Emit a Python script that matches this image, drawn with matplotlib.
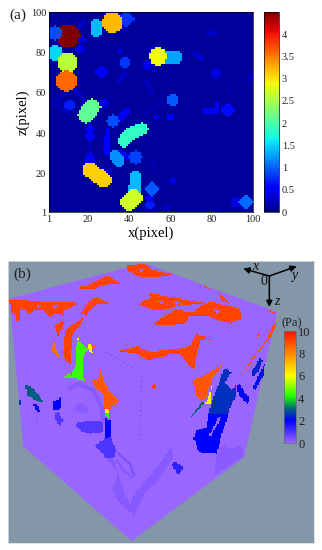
import numpy as np
import matplotlib
matplotlib.use("Agg")
import matplotlib.pyplot as plt
from matplotlib.colors import LinearSegmentedColormap
from matplotlib.patches import Polygon
from matplotlib.path import Path

plt.rcParams["font.family"] = ["Liberation Serif", "DejaVu Serif"]

W, H = 322, 550

# panel (a): round spots as x, z, radius, value
spots = [
    (10.4, 88, 5.7, 4.5), (31.7, 94.7, 5.2, 3.2), (4, 89.5, 3.5, 0.9),
    (4, 79.5, 4, 1.5), (10, 75, 4.5, 2.6), (9.5, 66, 5.2, 3.6),
    (54, 78, 4.3, 2.9), (38, 75, 2.3, 0.8), (61, 56.5, 3, 0.95),
    (11, 54, 2.5, 0.7), (32, 46, 3, 0.9), (50, 4.5, 2.3, 0.7),
    (53, 48, 1.3, 0.45), (60, 48, 1.5, 0.5), (35.5, 80.5, 1.5, 0.45),
    (61, 16.5, 1.5, 0.45), (92.5, 6, 3, 0.4), (48.5, 74, 2.2, 0.45),
    (16, 81.5, 2.2, 0.4), (17, 86, 2, 0.35), (50, 8, 2, 0.45),
    (52, 25, 1, 0.25),
]
# spots with little spikes
stars = [
    (38.5, 96.5, 3, 0.8), (26.5, 70.5, 2.8, 0.55), (43, 28, 3, 0.85),
    (51, 12.5, 3, 0.95), (96.5, 6, 3, 1.05), (88, 51.5, 2.7, 0.6),
    (82, 70, 2.3, 0.4), (80, 89.5, 1.8, 0.3), (21, 42, 2, 0.5),
    (21, 38.5, 2.2, 0.5), (28, 55, 1.8, 0.45),
]
# elongated spots as x0, z0, x1, z1, radius, value
sticks = [
    (24, 94, 24, 90, 2.8, 1.4), (56, 77.5, 63, 77.5, 2.7, 1.3),
    (19, 49, 22, 53, 4, 2.1), (37.4, 36, 41, 40, 3.1, 1.85),
    (41, 40, 46, 42, 3.1, 1.85), (33, 28.5, 35, 26.5, 2.9, 1.2),
    (21, 22, 27.5, 17, 3.7, 3.1), (43, 18.5, 42.5, 12, 2.7, 1.4),
    (40, 6, 42, 8, 4.2, 2.7), (76.5, 51, 82, 51, 1.3, 0.55),
    (82.5, 51, 82.5, 54, 1.4, 0.55), (72, 79, 75, 77, 1.2, 0.35),
    (29.5, 41, 29, 30, 1.4, 0.5), (21, 47, 21, 25, 0.8, 0.3),
    (21, 28, 21, 24, 2, 0.5), (10, 66, 19, 55, 1, 0.3),
    (3, 55, 11, 50, 0.8, 0.25), (3, 55, 9, 59, 0.8, 0.25),
    (35, 47, 39, 51, 1.5, 0.45), (35, 66, 38, 70, 1, 0.3),
    (48, 66, 51, 60, 1, 0.25), (46, 49, 58, 56, 0.8, 0.2),
    (58, 4, 58, 1, 1, 0.25), (88, 63, 89, 60, 0.8, 0.2),
    (98, 66, 100, 68, 0.8, 0.2), (80, 1, 84, 3, 0.8, 0.2),
    (35, 30, 42, 27, 1.5, 0.5), (15, 92, 18, 95, 1, 0.3),
]
bg_value = 0.12
a_ticks = [1, 20, 40, 60, 80, 100]
cb_ticks = [0, 0.5, 1, 1.5, 2, 2.5, 3, 3.5, 4]
cb_labels = ["0", "0.5", "1", "1.5", "2", "2.5", "3", "3.5", "4"]

# panel (b): cube outline and patches, in pixel coords of the panel, with value in Pa
cube = [(430, 98), (832, 245), (733, 680), (395, 932), (70, 648), (28, 205)]
patches_b = [
    # top face
    ([(380, 105), (435, 100), (460, 120), (525, 132), (485, 138), (450, 138), (430, 142), (405, 135), (400, 128), (380, 120)], 9.2),
    ([(229, 172), (264, 165), (324, 135), (359, 158), (319, 162), (284, 175), (239, 175)], 9.2),
    ([(29, 210), (74, 208), (124, 215), (174, 215), (229, 218), (224, 225), (194, 240), (189, 255), (164, 250),
      (149, 260), (129, 240), (104, 240), (84, 253), (79, 240), (59, 235), (59, 265), (52, 275), (44, 255), (32, 240)], 9.2),
    ([(242, 250), (264, 215), (289, 202), (327, 218), (299, 218), (274, 235), (259, 255)], 9.2),
    ([(162, 285), (194, 270), (189, 290), (174, 315)], 9.2),
    ([(196, 300), (249, 262), (244, 280), (219, 305), (214, 360), (212, 400), (199, 395), (189, 370)], 9.2),
    ([(445, 188), (610, 218), (540, 225), (490, 240), (465, 240), (420, 225), (430, 210), (455, 205)], 9.2),
    ([(460, 280), (490, 260), (525, 240), (580, 245), (605, 225), (635, 215), (720, 235), (725, 265),
      (690, 278), (655, 270), (620, 255), (570, 255), (555, 280), (485, 285)], 9.2),
    ([(655, 185), (690, 220), (665, 210)], 9.2),
    ([(615, 168), (640, 180), (625, 176)], 9.2),
    ([(805, 240), (828, 248), (815, 250)], 9.2),
    ([(360, 362), (410, 348), (450, 365), (535, 355), (570, 348), (588, 312), (635, 322), (600, 330), (595, 350),
      (582, 415), (565, 405), (545, 375), (520, 370), (445, 390), (410, 370)], 9.2),
    # left face, upper part
    ([(164, 330), (169, 355), (177, 385), (154, 360)], 8.4),
    ([(232, 330), (264, 355), (249, 380), (246, 440), (257, 453), (219, 442), (194, 442), (202, 430), (214, 435),
      (229, 400), (229, 360)], 4.4),
    ([(232, 322), (239, 322), (236, 330)], 6.2),
    ([(262, 340), (272, 340), (279, 370), (269, 365)], 6.2),
    ([(274, 342), (289, 345), (276, 360)], 8.8),
    ([(302, 420), (308, 445), (325, 480), (362, 515), (335, 525), (327, 542), (313, 535), (310, 490), (288, 475),
      (275, 450), (298, 445)], 8.8),
    ([(313, 535), (328, 540), (323, 560)], 6.2),
    ([(316, 553), (330, 553), (325, 568)], 4.2),
    # left face, lower part
    ([(225, 580), (270, 570), (305, 570), (310, 605), (270, 610), (240, 600)], 0.9),
    ([(215, 540), (240, 515), (270, 540), (255, 550)], 0.2),
    ([(315, 565), (332, 570), (332, 625), (315, 625)], 2.0),
    ([(315, 625), (332, 620), (348, 660), (340, 685), (320, 685), (285, 645)], 1.0),
    ([(320, 685), (340, 685), (360, 750), (375, 795), (410, 850), (380, 840), (345, 800), (340, 770), (355, 730)], 0.25),
    ([(410, 780), (455, 730), (480, 700), (515, 648), (520, 685), (500, 710), (465, 760), (435, 785), (415, 830),
      (400, 860), (390, 820)], 0.25),
    ([(515, 700), (525, 695), (545, 705), (548, 715), (535, 735), (525, 720)], 1.4),
    ([(75, 462), (100, 475), (128, 510), (125, 518), (100, 505), (82, 495)], 3.0),
    ([(100, 520), (112, 520), (120, 545), (105, 540)], 2.1),
    ([(105, 555), (115, 560), (110, 580)], 0.2),
    ([(58, 508), (65, 508), (63, 523), (58, 523)], 2.6),
    ([(160, 515), (185, 500), (185, 525), (175, 542), (162, 538)], 2.0),
    ([(165, 550), (175, 545), (190, 570), (178, 588), (165, 565)], 0.9),
    ([(460, 460), (470, 465), (462, 475), (455, 468)], 9.2),
    # right face
    ([(580, 450), (605, 440), (670, 402), (640, 440), (625, 480), (615, 510), (595, 505), (585, 490)], 8.9),
    ([(680, 420), (695, 425), (675, 455), (695, 480), (710, 460), (708, 495), (690, 530), (685, 550), (625, 550),
      (640, 500), (655, 465), (670, 420), (685, 412)], 2.5),
    ([(625, 550), (685, 550), (680, 570), (665, 610), (650, 670), (595, 665), (588, 635), (580, 625), (590, 600), (620, 590)], 2.0),
    ([(658, 558), (664, 562), (632, 618), (627, 615)], 0.0),
    ([(630, 485), (635, 465), (630, 520), (618, 518)], 6.2),
    ([(565, 570), (605, 515), (615, 515), (585, 550)], 3.0),
    ([(728, 435), (755, 385), (795, 335), (825, 275), (830, 280), (815, 315), (770, 370), (735, 425)], 9.0),
    ([(772, 315), (782, 305), (775, 325)], 9.0),
    ([(710, 465), (720, 460), (735, 490), (750, 500), (745, 520), (730, 510), (715, 490)], 2.1),
    ([(780, 380), (788, 390), (780, 415), (760, 440), (755, 425), (770, 400)], 2.4),
    ([(795, 400), (790, 435), (765, 480), (758, 475), (775, 435)], 2.2),
    ([(650, 675), (675, 635), (680, 655), (725, 645), (730, 680), (665, 720), (640, 735)], 0.2),
]
# small purple gaps in the red patches
gaps_b = [
    ([(470, 212), (490, 212), (485, 222)], 0.0),
    ([(520, 212), (545, 216), (530, 222)], 0.0),
    ([(640, 235), (660, 240), (650, 250)], 0.0),
    ([(110, 222), (125, 225), (115, 232)], 0.0),
    ([(160, 225), (175, 225), (165, 238)], 0.0),
    ([(415, 115), (430, 115), (425, 125)], 0.0),
]
arc_x = [208, 235, 280, 305, 310]
arc_z = [475, 460, 480, 530, 570]
loop1_x = [355, 390, 402]
loop1_z = [670, 700, 735]
loop2_x = [350, 370, 395]
loop2_z = [690, 720, 740]
hidden_x = [320, 425, 420]
hidden_z = [365, 430, 635]
pa_ticks = [0, 2, 4, 6, 8, 10]

# axis triad: label, tip of the arrow, label place
origin = (808, 137)
triad = [("x", (730, 115), (765, 108)), ("y", (890, 108), (882, 135)), ("z", (808, 230), (832, 213))]


def px_box(x0, y0, x1, y1):
    # pixel box to figure fractions
    return [x0 / W, 1 - y1 / H, (x1 - x0) / W, (y1 - y0) / H]


fig = plt.figure(figsize=(W / 100, H / 100), dpi=100)

# === panel (a) ===
xs = np.arange(1, 101)
X, Z = np.meshgrid(xs, xs)
grid = np.full(X.shape, bg_value, dtype=float)

for x, z, r, v in spots:
    grid[(X - x) ** 2 + (Z - z) ** 2 <= r ** 2] = v
for x, z, r, v in stars:
    mask = (X - x) ** 2 + (Z - z) ** 2 <= r ** 2
    mask |= (np.abs(X - x) <= 0.6) & (np.abs(Z - z) <= r + 0.6)
    mask |= (np.abs(Z - z) <= 0.6) & (np.abs(X - x) <= r + 0.6)
    grid[mask] = np.maximum(grid[mask], v)
for x0, z0, x1, z1, r, v in sticks:
    dx, dz = x1 - x0, z1 - z0
    t = np.clip(((X - x0) * dx + (Z - z0) * dz) / (dx ** 2 + dz ** 2), 0, 1)
    mask = (X - x0 - t * dx) ** 2 + (Z - z0 - t * dz) ** 2 <= r ** 2
    grid[mask] = np.maximum(grid[mask], v)

ax = fig.add_axes(px_box(49, 12, 253, 212))
im = ax.imshow(grid, origin="lower", extent=(0.5, 100.5, 0.5, 100.5), cmap="jet",
               vmin=0, vmax=4.5, aspect="auto", interpolation="nearest")
ax.set_xlim(1, 100)
ax.set_ylim(1, 100)
ax.set_xticks(a_ticks)
ax.set_yticks(a_ticks)
ax.tick_params(labelsize=7.5, length=0, pad=2, colors="#222222")
ax.set_xlabel("x(pixel)", fontsize=10.5, labelpad=2)
ax.set_ylabel("z(pixel)", fontsize=10.5, labelpad=1)
for s in ax.spines.values():
    s.set_linewidth(0.5)

cax = fig.add_axes(px_box(264, 12, 279, 212))
cb = fig.colorbar(im, cax=cax)
cb.set_ticks(cb_ticks)
cb.set_ticklabels(cb_labels)
cb.ax.tick_params(labelsize=7.5, length=0, pad=2, colors="#222222")
cb.outline.set_linewidth(0.5)

fig.text(18 / W, 1 - 15 / H, "(a)", fontsize=11, ha="center", va="center", color="#222222")

# === panel (b) ===
pa_cmap = LinearSegmentedColormap.from_list(
    "pa", [(0, "#9966ff"), (0.2, "#0000ff"), (0.3, "#006080"), (0.42, "#22ff00"),
           (0.6, "#ffff00"), (0.8, "#ff8800"), (1, "#ff1500")])

bx = fig.add_axes(px_box(8, 261, 314, 543))
bx.set_facecolor("#8497a9")
bx.set_xticks([])
bx.set_yticks([])
for s in bx.spines.values():
    s.set_color("#d5dbe0")
    s.set_linewidth(0.6)

bx.add_patch(Polygon(cube, closed=True, fc=pa_cmap(0.0), ec="none"))
bx.plot(arc_x, arc_z, color=pa_cmap(0.025), lw=3, solid_capstyle="round")
bx.plot(loop1_x, loop1_z, color=pa_cmap(0.04), lw=1.5)
bx.plot(loop2_x, loop2_z, color=pa_cmap(0.03), lw=1.5)

# patches go on a coarse grid so the edges stay stepped like the voxels
cell = 4
gx = np.arange(24, 942, cell) + cell / 2
gz = np.arange(92, 938, cell) + cell / 2
GX, GZ = np.meshgrid(gx, gz)
pts_all = np.column_stack([GX.ravel(), GZ.ravel()])
field = np.full(GX.shape, np.nan)
for pts, val in patches_b + gaps_b:
    inside = Path(pts + pts[:1]).contains_points(pts_all).reshape(GX.shape)
    field[inside] = val
bx.imshow(field, cmap=pa_cmap, vmin=0, vmax=10, extent=(gx[0] - cell / 2, gx[-1] + cell / 2, gz[-1] + cell / 2, gz[0] - cell / 2),
          interpolation="nearest", aspect="auto", zorder=2.5)
bx.set_xlim(24, 942)
bx.set_ylim(938, 92)
bx.plot(hidden_x, hidden_z, color="#6a4a90", lw=0.7, ls=(0, (1, 4)), zorder=3)

bx.text(66, 132, "(b)", fontsize=11, ha="center", va="center", color="#222222")
bx.text(792, 153, "0", fontsize=10, ha="center", va="center", color="#111111")
for name, tip, place in triad:
    bx.annotate("", xy=tip, xytext=origin,
                arrowprops=dict(arrowstyle="-|>", color="black", lw=1.1, mutation_scale=9, shrinkA=0, shrinkB=0))
    bx.text(place[0], place[1], name, fontsize=10, style="italic", ha="center", va="center", color="#111111")

pax = fig.add_axes(px_box(284, 331, 296, 443))
pax.imshow(np.linspace(0, 10, 256).reshape(-1, 1), origin="lower", aspect="auto",
           cmap=pa_cmap, vmin=0, vmax=10, extent=(0, 1, 0, 10))
pax.set_xticks([])
pax.yaxis.tick_right()
pax.set_yticks(pa_ticks)
pax.tick_params(labelsize=9, length=0, pad=1.5, colors="#222222")
for s in pax.spines.values():
    s.set_color("#666677")
    s.set_linewidth(0.5)
fig.text(292 / W, 1 - 323 / H, "(Pa)", fontsize=9, ha="center", va="center", color="#222222")

fig.savefig("out.png", dpi=100)
